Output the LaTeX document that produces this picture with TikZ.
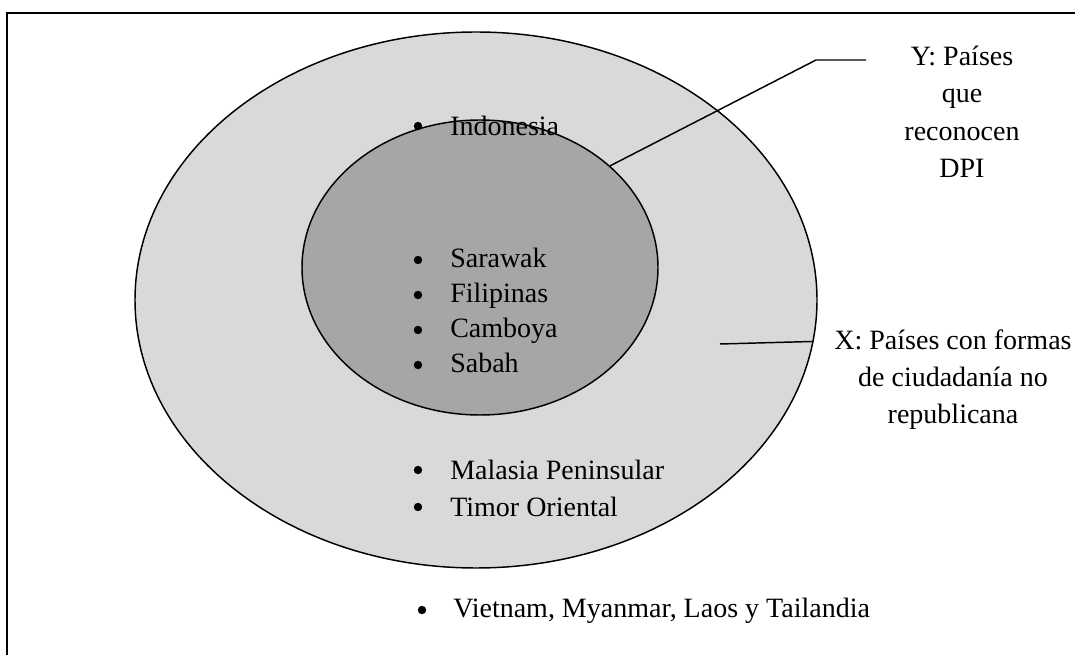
\documentclass[tikz,border=0pt]{standalone}
\usepackage{fontspec}
\setmainfont{Liberation Serif}
\usetikzlibrary{shapes.geometric}
\definecolor{outerfill}{HTML}{D9D9D9}
\definecolor{innerfill}{HTML}{A6A6A6}
\tikzset{
  setshape/.style={ellipse, draw=black, line width=1.1pt, inner sep=0pt},
  item/.style={anchor=base west, inner sep=0pt, font=\fontsize{21}{28}\selectfont},
  dot/.style={fill=black, draw=none},
  % multi-line captions are placed by the baseline of their last line
  caption/.style={align=center, anchor=base, inner sep=0pt,
    font=\fontsize{21}{28.1}\selectfont},
  leader/.style={draw=black, line width=1.1pt}
}
\begin{document}
\begin{tikzpicture}[x=0.75pt, y=-0.75pt]
\useasboundingbox (0,0) rectangle (1075,655);
% page frame, running off the right and bottom edges
\draw[line width=1.6pt] (1090,13) -- (7,13) -- (7,670);

% the two nested sets
\node[setshape, fill=outerfill, minimum width=682*0.75pt, minimum height=536*0.75pt] (outer) at (476,300) {};
\node[setshape, fill=innerfill, minimum width=356*0.75pt, minimum height=295*0.75pt] (inner) at (480,267.5) {};

% members of X only
\fill[dot] (418,126) circle (4.2);
\node[item] (indo) at (450,136) {Indonesia};
\fill[dot] (418,470) circle (4.2);
\node[item] (mal) at (450,480) {Malasia Peninsular};
\fill[dot] (418,507) circle (4.2);
\node[item] (tim) at (450,517) {Timor Oriental};

% members of Y
\fill[dot] (418,260) circle (4.2);
\node[item] (sar) at (450,268) {Sarawak};
\fill[dot] (418,295) circle (4.2);
\node[item] (fil) at (450,303) {Filipinas};
\fill[dot] (418,330) circle (4.2);
\node[item] (cam) at (450,338) {Camboya};
\fill[dot] (418,365) circle (4.2);
\node[item] (sab) at (450,373) {Sabah};

% outside both sets
\fill[dot] (422,610) circle (4.2);
\node[item] (viet) at (453,618) {Vietnam, Myanmar, Laos y Tailandia};

% set captions
\node[caption] (ycap) at (962,177.5) {Y: Países\\que\\reconocen\\DPI};
\node[caption] (xcap) at (953,424) {X: Países con formas\\de ciudadanía no\\republicana};

% leader lines
\coordinate (ybend) at (816,60);
\coordinate (yend) at (866,60);
\draw[leader] (yend) -- (ybend) -- (inner.38);
\coordinate (xstart) at (720,344);
\draw[leader] (xstart) -- (outer.-7.5);
\end{tikzpicture}
\end{document}
